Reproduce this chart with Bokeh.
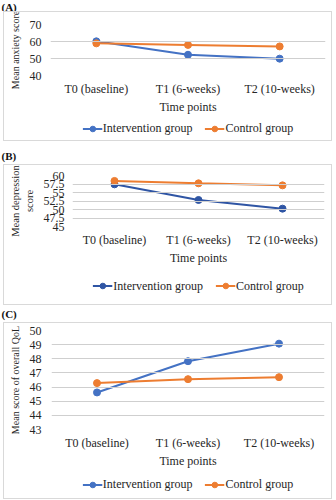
from bokeh.plotting import figure
from bokeh.models import Range1d, FactorRange, FixedTicker
from bokeh.layouts import column
from bokeh.embed import file_html
from bokeh.resources import INLINE
from bokeh.core.properties import value

time_points = ["T0 (baseline)", "T1 (6-weeks)", "T2 (10-weeks)"]

anx_intervention = [60.1, 52.2, 49.9]
anx_control = [58.9, 58.0, 57.1]
anx_ticks = [40, 50, 60, 70]

dep_intervention = [57.4, 52.8, 50.25]
dep_control = [58.4, 57.7, 57.1]
dep_ticks = [45, 47.5, 50, 52.5, 55, 57.5, 60]

qol_intervention = [45.62, 47.83, 49.07]
qol_control = [46.28, 46.56, 46.70]
qol_ticks = [43, 44, 45, 46, 47, 48, 49, 50]

series_names = ["Intervention group", "Control group"]

FONT = "Liberation Serif"
TXT = "#262626"
GRID = "#cfcfcf"
BOX = "#d9d9d9"
ORANGE = "#ED7D31"
W = 327


def tag_strip(text, h, ty):
    p = figure(width=336, height=h, x_range=Range1d(0, 336), y_range=Range1d(h, 0),
               x_axis_location=None, y_axis_location=None, min_border=0,
               output_backend="svg", toolbar_location=None)
    p.grid.visible = False
    p.outline_line_color = None
    p.text(x=[1], y=[ty], text=[text], text_font=value(FONT), text_font_size="11px",
           text_font_style="bold", text_color="#111111", text_baseline="middle")
    return p


def panel(ticks, inter, ctrl, blue, ylabel, ylsize, h, bl, br, bt, bb, ystand):
    p = figure(x_range=FactorRange(*time_points), y_range=Range1d(ticks[0], ticks[-1]),
               width=W, height=h, min_border_left=bl, min_border_right=br,
               min_border_top=bt, min_border_bottom=bb,
               output_backend="svg", toolbar_location=None)
    p.outline_line_color = None
    p.xgrid.visible = False
    p.ygrid.grid_line_color = GRID
    p.ygrid.grid_line_width = 1
    p.ygrid.level = "glyph"
    p.yaxis.ticker = FixedTicker(ticks=ticks)
    for ax in (p.xaxis, p.yaxis):
        ax.axis_line_color = None
        ax.major_tick_line_color = None
        ax.minor_tick_line_color = None
        ax.major_tick_out = 0
        ax.major_tick_in = 0
        ax.minor_tick_out = 0
        ax.major_label_text_font = FONT
        ax.major_label_text_font_size = "12px"
        ax.major_label_text_color = TXT
        ax.axis_label_text_font = FONT
        ax.axis_label_text_font_size = "12px"
        ax.axis_label_text_font_style = "normal"
        ax.axis_label_text_color = TXT
    p.xaxis.axis_label = "Time points"
    p.xaxis.major_label_standoff = 6
    p.xaxis.axis_label_standoff = 1
    p.yaxis.major_label_standoff = ystand
    p.yaxis.axis_label = ylabel
    p.yaxis.axis_label_text_font_size = ylsize
    p.yaxis.axis_label_standoff = 6

    p.line(time_points, inter, line_color=blue, line_width=2)
    p.scatter(time_points, inter, size=7, fill_color=blue, line_color=blue)
    p.line(time_points, ctrl, line_color=ORANGE, line_width=2)
    p.scatter(time_points, ctrl, size=7, fill_color=ORANGE, line_color=ORANGE)
    return p


def legend_strip(inter, ctrl, blue, h):
    # same series, drawn outside the visible range: only their legend entries show
    p = figure(width=W, height=h, x_range=FactorRange(*time_points), y_range=Range1d(0, 1),
               x_axis_location=None, y_axis_location=None, min_border=0,
               output_backend="svg", toolbar_location=None)
    p.grid.visible = False
    p.outline_line_color = None
    p.line(time_points, inter, line_color=blue, line_width=2, legend_label=series_names[0])
    p.scatter(time_points, inter, size=7, fill_color=blue, line_color=blue,
              legend_label=series_names[0])
    p.line(time_points, ctrl, line_color=ORANGE, line_width=2, legend_label=series_names[1])
    p.scatter(time_points, ctrl, size=7, fill_color=ORANGE, line_color=ORANGE,
              legend_label=series_names[1])
    leg = p.legend[0]
    leg.orientation = "horizontal"
    leg.location = "center"
    leg.glyph_width = 20
    leg.glyph_height = 14
    leg.label_height = 14
    leg.label_standoff = 1
    leg.spacing = 12
    leg.padding = 4
    leg.margin = 0
    leg.border_line_color = None
    leg.background_fill_alpha = 0
    leg.label_text_font = FONT
    leg.label_text_font_size = "12px"
    leg.label_text_color = TXT
    return p


def boxed(children):
    return column(*children, spacing=0, margin=(1, 0, 1, 4),
                  styles={"outline": "1px solid " + BOX})


ta = tag_strip("(A)", 11, 5.5)
pa = panel(anx_ticks, anx_intervention, anx_control, "#4472C4", "Mean anxiety score", "10px",
           104, 46, 6, 12, 36, 9)
la = legend_strip(anx_intervention, anx_control, "#4472C4", 24)

tb = tag_strip("(B)", 23, 14)
pb = panel(dep_ticks, dep_intervention, dep_control, "#2F55A4", "Mean depression\nscore", "10.5px",
           102, 68, 7, 10, 38, 8)
lb = legend_strip(dep_intervention, dep_control, "#2F55A4", 37)

tc = tag_strip("(C)", 17, 8)
pc = panel(qol_ticks, qol_intervention, qol_control, "#4472C4", "Mean score of overall QoL", "10px",
           147, 47, 7, 7, 41, 10)
lc = legend_strip(qol_intervention, qol_control, "#4472C4", 28)

layout = column(ta, boxed([pa, la]), tb, boxed([pb, lb]), tc, boxed([pc, lc]), spacing=0)

with open("out.html", "w") as f:
    f.write(file_html(layout, INLINE))
